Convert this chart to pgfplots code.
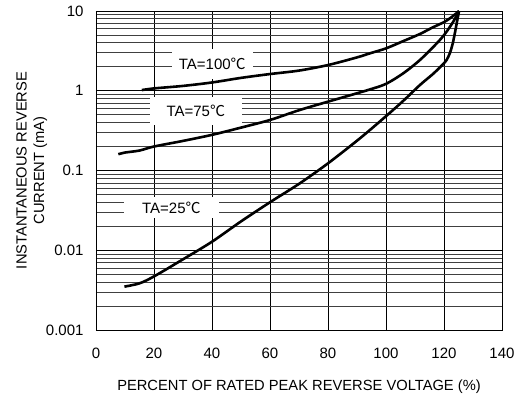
\documentclass[border=0pt]{standalone}
\usepackage{pgfplots}
\pgfplotsset{compat=1.18}
\usepackage{fontspec}
\setmainfont{Liberation Sans}
\newfontfamily\cjk{Noto Sans CJK SC}
\begin{document}
\begin{tikzpicture}
\begin{axis}[name=ax,
  scale only axis, width=406bp, height=319bp,
  xmin=0, xmax=140, ymin=0.001, ymax=10, ymode=log,
  xtick={0,20,...,140}, ytick={0.001,0.01,0.1,1,10},
  yticklabels={0.001,0.01,0.1,1,10},
  minor ytick={0.002,0.003,0.004,0.005,0.006,0.007,0.008,0.009,
    0.02,0.03,0.04,0.05,0.06,0.07,0.08,0.09,
    0.2,0.3,0.4,0.5,0.6,0.7,0.8,0.9,
    2,3,4,5,6,7,8,9},
  minor xtick={},
  grid=both,
  major grid style={black, line width=0.7bp},
  minor grid style={black!75, line width=0.7bp},
  major tick length=0pt, minor tick length=0pt,
  axis line style={black, line width=0.9bp},
  /pgf/number format/assume math mode=true,
  tick label style={font=\fontsize{15bp}{18bp}\selectfont},
  xticklabel style={yshift=-14bp},
  yticklabel style={xshift=-9bp},
  label style={font=\fontsize{14.7bp}{17.5bp}\selectfont},
  xlabel={PERCENT OF RATED PEAK REVERSE VOLTAGE (\%)},
  xlabel style={at={(axis description cs:0.5,-0.179)}, anchor=center},
  ylabel={INSTANTANEOUS REVERSE\\CURRENT (mA)},
  ylabel style={at={(axis description cs:-0.158,0.5)}, anchor=center, align=center},
]
\node[fill=white, minimum width=81bp, minimum height=30bp, inner sep=0pt, font=\fontsize{15bp}{18bp}\selectfont] at (axis cs:40.1,2.16) {TA=100{\cjk ℃}};
\node[fill=white, minimum width=92bp, minimum height=28bp, inner sep=0pt, font=\fontsize{15bp}{18bp}\selectfont] at (axis cs:34.4,0.557) {TA=75{\cjk ℃}};
\node[fill=white, minimum width=95bp, minimum height=21bp, inner sep=0pt, font=\fontsize{15bp}{18bp}\selectfont] at (axis cs:26.0,0.0343) {TA=25{\cjk ℃}};
\addplot[black, line width=2.6bp, smooth, tension=0.5] coordinates {
(15.8,1.02) (20,1.07) (30,1.15) (40,1.27) (50,1.45) (60,1.62) (70,1.79) (80,2.1) (90,2.62) (94.5,2.95) (100,3.4) (106,4.2) (111.7,5.15) (116,6.2) (120.3,7.35) (123,8.6) (125.2,10)};
\addplot[black, line width=2.6bp, smooth, tension=0.5] coordinates {
(7.7,0.16) (10,0.168) (15,0.178) (20,0.2) (30,0.235) (40,0.28) (50,0.345) (60,0.43) (70,0.57) (80,0.73) (90,0.93) (94.5,1.04) (100,1.22) (106,1.66) (111.7,2.43) (117.5,3.93) (120.3,5.15) (123.2,7.35) (125.2,10)};
\addplot[black, line width=2.6bp, smooth, tension=0.5] coordinates {
(9.8,0.0035) (15,0.00385) (20,0.0047) (30,0.0077) (40,0.0128) (50,0.023) (60,0.040) (70,0.068) (80,0.123) (91,0.253) (100,0.48) (106,0.75) (111.7,1.18) (116,1.6) (119,2.03) (120.8,2.4) (122,2.95) (123,3.9) (123.8,5.4) (124.5,7.4) (125.2,10)};
\end{axis}
\path ([xshift=-96bp,yshift=-70bp]ax.south west) rectangle ([xshift=20bp,yshift=11bp]ax.north east);
\end{tikzpicture}
\end{document}
